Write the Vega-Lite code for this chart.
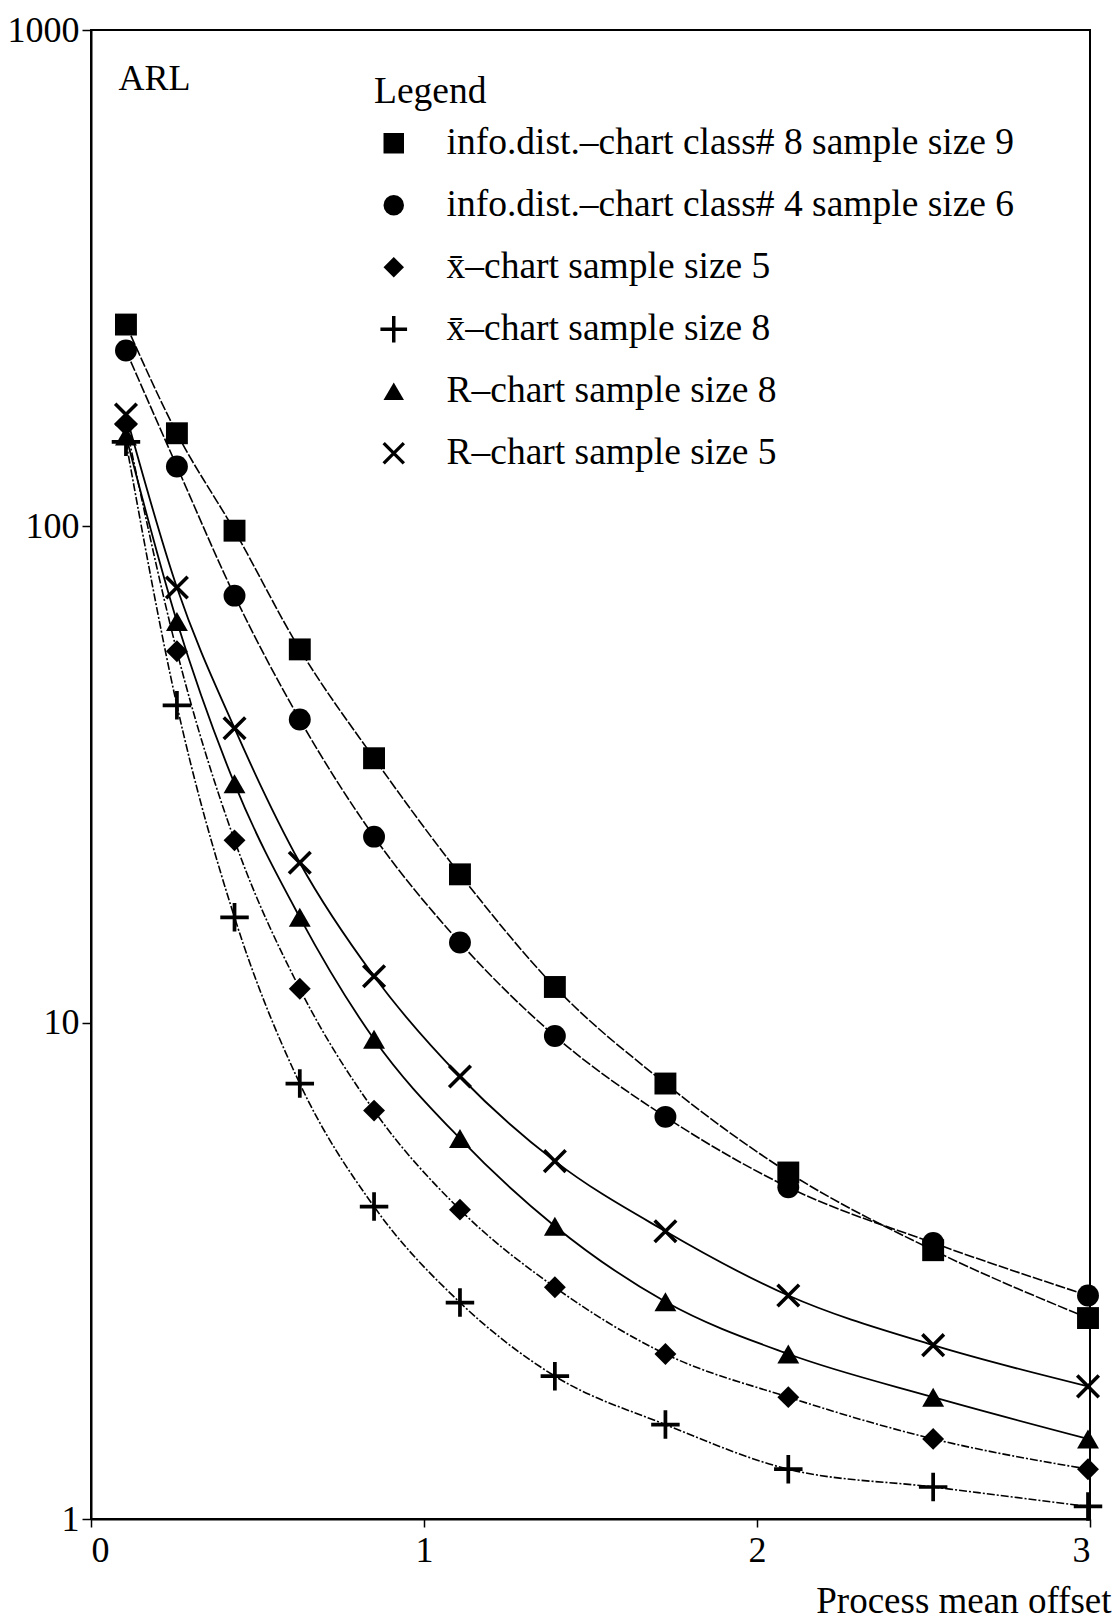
{
  "$schema": "https://vega.github.io/schema/vega-lite/v6.json",
  "autosize": {"type": "none"},
  "width": 999,
  "height": 1489,
  "padding": {"left": 91, "top": 30, "right": 26, "bottom": 101},
  "background": "white",
  "config": {
    "font": "Liberation Serif",
    "view": {"stroke": "black", "strokeWidth": 2},
    "axis": {
      "labelFont": "Liberation Serif",
      "titleFont": "Liberation Serif",
      "labelColor": "black",
      "titleColor": "black",
      "domainColor": "black",
      "domainWidth": 2,
      "tickColor": "black",
      "tickWidth": 1.5,
      "grid": false,
      "labelFontSize": 36,
      "titleFontSize": 37,
      "titleFontWeight": "normal"
    },
    "legend": {
      "labelFont": "Liberation Serif",
      "titleFont": "Liberation Serif"
    }
  },
  "data": {
    "values": [
      {"series": "info.dist.–chart class# 8 sample size 9", "x": 0.105, "arl": 255},
      {"series": "info.dist.–chart class# 8 sample size 9", "x": 0.258, "arl": 154},
      {"series": "info.dist.–chart class# 8 sample size 9", "x": 0.431, "arl": 98},
      {"series": "info.dist.–chart class# 8 sample size 9", "x": 0.627, "arl": 56.5},
      {"series": "info.dist.–chart class# 8 sample size 9", "x": 0.85, "arl": 34.1},
      {"series": "info.dist.–chart class# 8 sample size 9", "x": 1.108, "arl": 19.9},
      {"series": "info.dist.–chart class# 8 sample size 9", "x": 1.393, "arl": 11.8},
      {"series": "info.dist.–chart class# 8 sample size 9", "x": 1.725, "arl": 7.54},
      {"series": "info.dist.–chart class# 8 sample size 9", "x": 2.094, "arl": 4.99},
      {"series": "info.dist.–chart class# 8 sample size 9", "x": 2.529, "arl": 3.48},
      {"series": "info.dist.–chart class# 8 sample size 9", "x": 2.994, "arl": 2.54},

      {"series": "info.dist.–chart class# 4 sample size 6", "x": 0.105, "arl": 226},
      {"series": "info.dist.–chart class# 4 sample size 6", "x": 0.258, "arl": 132},
      {"series": "info.dist.–chart class# 4 sample size 6", "x": 0.431, "arl": 72.5},
      {"series": "info.dist.–chart class# 4 sample size 6", "x": 0.627, "arl": 40.8},
      {"series": "info.dist.–chart class# 4 sample size 6", "x": 0.85, "arl": 23.7},
      {"series": "info.dist.–chart class# 4 sample size 6", "x": 1.108, "arl": 14.5},
      {"series": "info.dist.–chart class# 4 sample size 6", "x": 1.393, "arl": 9.4},
      {"series": "info.dist.–chart class# 4 sample size 6", "x": 1.725, "arl": 6.46},
      {"series": "info.dist.–chart class# 4 sample size 6", "x": 2.094, "arl": 4.66},
      {"series": "info.dist.–chart class# 4 sample size 6", "x": 2.529, "arl": 3.6},
      {"series": "info.dist.–chart class# 4 sample size 6", "x": 2.994, "arl": 2.82},

      {"series": "x̄–chart sample size 5", "x": 0.105, "arl": 160},
      {"series": "x̄–chart sample size 5", "x": 0.258, "arl": 56},
      {"series": "x̄–chart sample size 5", "x": 0.431, "arl": 23.3},
      {"series": "x̄–chart sample size 5", "x": 0.627, "arl": 11.7},
      {"series": "x̄–chart sample size 5", "x": 0.85, "arl": 6.65},
      {"series": "x̄–chart sample size 5", "x": 1.108, "arl": 4.2},
      {"series": "x̄–chart sample size 5", "x": 1.393, "arl": 2.93},
      {"series": "x̄–chart sample size 5", "x": 1.725, "arl": 2.15},
      {"series": "x̄–chart sample size 5", "x": 2.094, "arl": 1.76},
      {"series": "x̄–chart sample size 5", "x": 2.529, "arl": 1.45},
      {"series": "x̄–chart sample size 5", "x": 2.994, "arl": 1.26},

      {"series": "x̄–chart sample size 8", "x": 0.105, "arl": 148},
      {"series": "x̄–chart sample size 8", "x": 0.258, "arl": 43.6},
      {"series": "x̄–chart sample size 8", "x": 0.431, "arl": 16.3},
      {"series": "x̄–chart sample size 8", "x": 0.627, "arl": 7.54},
      {"series": "x̄–chart sample size 8", "x": 0.85, "arl": 4.26},
      {"series": "x̄–chart sample size 8", "x": 1.108, "arl": 2.73},
      {"series": "x̄–chart sample size 8", "x": 1.393, "arl": 1.94},
      {"series": "x̄–chart sample size 8", "x": 1.725, "arl": 1.55},
      {"series": "x̄–chart sample size 8", "x": 2.094, "arl": 1.26},
      {"series": "x̄–chart sample size 8", "x": 2.529, "arl": 1.16},
      {"series": "x̄–chart sample size 8", "x": 2.994, "arl": 1.06},

      {"series": "R–chart sample size 8", "x": 0.105, "arl": 152},
      {"series": "R–chart sample size 8", "x": 0.258, "arl": 64.3},
      {"series": "R–chart sample size 8", "x": 0.431, "arl": 30.3},
      {"series": "R–chart sample size 8", "x": 0.627, "arl": 16.3},
      {"series": "R–chart sample size 8", "x": 0.85, "arl": 9.26},
      {"series": "R–chart sample size 8", "x": 1.108, "arl": 5.84},
      {"series": "R–chart sample size 8", "x": 1.393, "arl": 3.89},
      {"series": "R–chart sample size 8", "x": 1.725, "arl": 2.74},
      {"series": "R–chart sample size 8", "x": 2.094, "arl": 2.15},
      {"series": "R–chart sample size 8", "x": 2.529, "arl": 1.76},
      {"series": "R–chart sample size 8", "x": 2.994, "arl": 1.45},

      {"series": "R–chart sample size 5", "x": 0.105, "arl": 168},
      {"series": "R–chart sample size 5", "x": 0.258, "arl": 75.3},
      {"series": "R–chart sample size 5", "x": 0.431, "arl": 39.2},
      {"series": "R–chart sample size 5", "x": 0.627, "arl": 21},
      {"series": "R–chart sample size 5", "x": 0.85, "arl": 12.4},
      {"series": "R–chart sample size 5", "x": 1.108, "arl": 7.79},
      {"series": "R–chart sample size 5", "x": 1.393, "arl": 5.26},
      {"series": "R–chart sample size 5", "x": 1.725, "arl": 3.8},
      {"series": "R–chart sample size 5", "x": 2.094, "arl": 2.82},
      {"series": "R–chart sample size 5", "x": 2.529, "arl": 2.24},
      {"series": "R–chart sample size 5", "x": 2.994, "arl": 1.85}
    ]
  },
  "encoding": {
    "x": {
      "field": "x",
      "type": "quantitative",
      "scale": {"domain": [0, 3], "nice": false, "zero": false},
      "axis": {
        "values": [0, 1, 2, 3],
        "format": "d",
        "tickSize": 8,
        "labelPadding": 6,
        "title": "Process mean offset",
        "titleAnchor": "end",
        "titleAlign": "right",
        "titleBaseline": "alphabetic",
        "titleX": 1020,
        "titleY": 93
      }
    },
    "y": {
      "field": "arl",
      "type": "quantitative",
      "scale": {"type": "log", "domain": [1, 1000], "nice": false},
      "axis": {
        "values": [1, 10, 100, 1000],
        "format": "d",
        "tickSize": 9,
        "labelPadding": 3,
        "title": "ARL",
        "titleFontSize": 36,
        "titleAngle": 0,
        "titleAlign": "left",
        "titleBaseline": "alphabetic",
        "titleX": 27,
        "titleY": 59
      }
    }
  },
  "layer": [
    {
      "transform": [
        {"filter": {"field": "series", "oneOf": [
          "info.dist.–chart class# 8 sample size 9",
          "info.dist.–chart class# 4 sample size 6"
        ]}}
      ],
      "mark": {"type": "line", "interpolate": "monotone", "color": "black", "strokeWidth": 1.6, "strokeDash": [10, 2]},
      "encoding": {"detail": {"field": "series"}}
    },
    {
      "transform": [
        {"filter": {"field": "series", "oneOf": [
          "x̄–chart sample size 5",
          "x̄–chart sample size 8"
        ]}}
      ],
      "mark": {"type": "line", "interpolate": "monotone", "color": "black", "strokeWidth": 1.6, "strokeDash": [8, 2, 2, 2]},
      "encoding": {"detail": {"field": "series"}}
    },
    {
      "transform": [
        {"filter": {"field": "series", "oneOf": [
          "R–chart sample size 8",
          "R–chart sample size 5"
        ]}}
      ],
      "mark": {"type": "line", "interpolate": "monotone", "color": "black", "strokeWidth": 1.8},
      "encoding": {"detail": {"field": "series"}}
    },
    {
      "mark": {"type": "point", "filled": true, "color": "black", "fill": "black", "opacity": 1, "size": 480},
      "encoding": {
        "shape": {
          "field": "series",
          "type": "nominal",
          "scale": {
            "domain": [
              "info.dist.–chart class# 8 sample size 9",
              "info.dist.–chart class# 4 sample size 6",
              "x̄–chart sample size 5",
              "x̄–chart sample size 8",
              "R–chart sample size 8",
              "R–chart sample size 5"
            ],
            "range": [
              "square",
              "circle",
              "diamond",
              "M-1.3,-0.17L1.3,-0.17L1.3,0.17L-1.3,0.17Z M-0.17,-1.3L0.17,-1.3L0.17,1.3L-0.17,1.3Z",
              "triangle-up",
              "M-1.1,-0.87L-0.87,-1.1L1.1,0.87L0.87,1.1Z M-1.1,0.87L0.87,-1.1L1.1,-0.87L-0.87,1.1Z"
            ]
          },
          "legend": {
            "title": "Legend",
            "orient": "none",
            "legendX": 283,
            "legendY": 43,
            "titleFontSize": 37.5,
            "titleFontWeight": "normal",
            "titleColor": "black",
            "titlePadding": 14,
            "labelFontSize": 37.5,
            "labelColor": "black",
            "labelLimit": 800,
            "labelOffset": 34,
            "symbolSize": 420,
            "symbolOffset": 1,
            "symbolFillColor": "black",
            "symbolOpacity": 1,
            "rowPadding": 23
          }
        }
      }
    }
  ]
}
